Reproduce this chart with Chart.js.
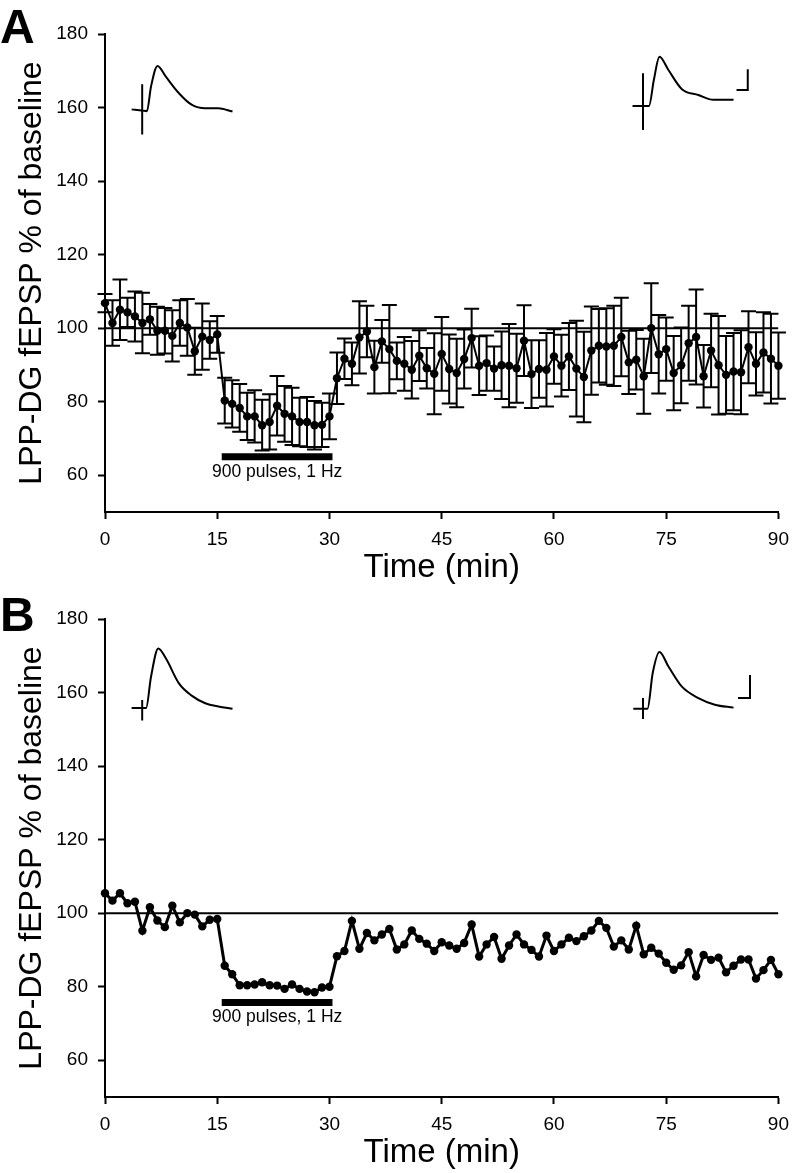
<!DOCTYPE html>
<html>
<head>
<meta charset="utf-8">
<script src="https://cdn.jsdelivr.net/npm/chart.js@4.4.1/dist/chart.umd.min.js"></script>
<style>
  html, body { margin: 0; padding: 0; background: #fff; }
  body { width: 798px; height: 1173px; position: relative; overflow: hidden; font-family: "Liberation Sans", Arial, sans-serif; }
  .panel { position: absolute; left: 0; width: 798px; height: 585px; }
  .letter { position: absolute; left: 0; font-weight: bold; font-size: 48px; line-height: 48px; color: #000; }
</style>
</head>
<body>
<div class="panel" style="top:0"><canvas id="chartA" width="798" height="585"></canvas></div>
<div class="panel" style="top:585px"><canvas id="chartB" width="798" height="585"></canvas></div>
<div class="letter" style="top:3px">A</div>
<div class="letter" style="top:591px">B</div>
<script>
// time of each sample (min)
const minutes = [0, 1, 2, 3, 4, 5, 6, 7, 8, 9, 10, 11, 12, 13, 14, 15, 16, 17, 18, 19,
  20, 21, 22, 23, 24, 25, 26, 27, 28, 29, 30, 31, 32, 33, 34, 35, 36, 37, 38, 39,
  40, 41, 42, 43, 44, 45, 46, 47, 48, 49, 50, 51, 52, 53, 54, 55, 56, 57, 58, 59,
  60, 61, 62, 63, 64, 65, 66, 67, 68, 69, 70, 71, 72, 73, 74, 75, 76, 77, 78, 79,
  80, 81, 82, 83, 84, 85, 86, 87, 88, 89, 90];

// panel A: mean fEPSP (% of baseline) and SEM
const meanA = [106.8, 101.4, 105.0, 104.3, 103.2, 101.4, 102.4, 99.3, 99.3, 97.9, 101.4, 100.2, 93.7, 97.7, 96.8, 98.3,
  80.3, 79.4, 78.3, 76.0, 76.0, 73.6, 74.5, 78.9, 76.7, 76.0, 74.5, 74.5, 73.6, 73.7, 76.0,
  86.4, 91.7, 90.3, 97.5, 99.1, 89.4, 96.4, 94.3, 91.1, 90.3, 88.7, 92.5, 89.1, 87.6, 93.0, 88.9,
  87.8, 91.6, 97.3, 89.8, 90.5, 89.0, 89.9, 89.8, 89.1, 96.6, 87.5, 88.9, 88.7, 92.3, 89.8, 92.3,
  89.0, 86.7, 93.9, 95.2, 95.0, 95.2, 97.6, 90.7, 91.4, 86.9, 100.0, 92.9, 94.3, 87.8,
  89.9, 95.9, 97.6, 86.9, 93.9, 89.9, 87.3, 88.2, 88.0, 94.8, 90.3, 93.4, 91.7, 89.8];
const semA = [2.5, 6.2, 8.2, 4.0, 6.8, 8.2, 4.2, 6.5, 6.2, 7.0, 6.2, 7.7, 6.4, 9.0, 5.1, 5.0,
  6.2, 6.4, 6.5, 6.4, 7.1, 6.9, 7.5, 8.1, 7.6, 7.8, 6.6, 6.8, 6.6, 6.0, 6.2,
  7.0, 5.5, 5.8, 9.8, 7.0, 7.2, 5.8, 12.0, 5.0, 7.3, 7.8, 6.9, 5.5, 11.0, 10.0, 9.4,
  9.3, 8.0, 8.0, 8.0, 7.5, 6.0, 9.2, 11.3, 9.4, 9.6, 9.2, 7.8, 10.0, 7.4, 8.4, 9.1,
  13.0, 12.3, 12.0, 10.0, 10.4, 10.9, 10.7, 8.6, 8.1, 10.2, 12.2, 10.7, 8.6, 10.1,
  10.3, 10.2, 12.9, 8.5, 10.0, 13.4, 10.6, 10.5, 11.4, 9.8, 8.6, 10.9, 12.2, 9.0];

// panel B: single experiment
const valuesB = [105.4, 103.4, 105.4, 102.7, 103.1, 95.2, 101.6, 98.0, 96.2, 102.0, 97.5, 100.0, 99.6, 96.4, 98.2, 98.4,
  85.7, 83.4, 80.4, 80.4, 80.6, 81.2, 80.4, 80.3, 79.4, 80.6, 79.4, 78.7, 78.5, 79.8, 80.0,
  88.3, 89.7, 97.9, 90.3, 94.6, 92.6, 94.2, 95.7, 90.1, 91.5, 95.3, 93.0, 91.7, 89.7, 92.1, 91.2,
  90.3, 91.9, 96.9, 88.2, 91.5, 93.5, 87.6, 91.2, 94.2, 91.5, 90.0, 88.2, 93.9, 89.7, 91.5, 93.3,
  92.4, 93.7, 95.3, 97.9, 96.0, 90.9, 92.6, 90.1, 96.6, 88.8, 90.6, 89.0, 86.5, 84.6,
  85.8, 89.4, 82.8, 88.6, 87.3, 87.9, 83.9, 85.7, 87.4, 87.4, 82.2, 84.5, 87.3, 83.4];

const xTicks = [0, 15, 30, 45, 60, 75, 90];
const yTicks = [60, 80, 100, 120, 140, 160, 180];
const baseline = 100;
const stimTimes = [15.6, 30.4];
const stimLevelA = 65;
const stimLevelB = 75.7;
const stimLabel = '900 pulses, 1 Hz';

// example fEPSP traces (inset) as [time, value] samples
const traceA1 = [[3.56, 159.5], [4.97, 159.2], [5.6, 159.0], [6.15, 165.7], [7.02, 171.3], [8.13, 168.4],
  [9.88, 163.9], [11.63, 160.7], [13.4, 159.8], [15.15, 159.8], [17.04, 158.9]];
const artifactA1 = [[4.97, 166.3], [4.97, 152.7]];
const traceA2 = [[70.5, 160.4], [71.9, 160.4], [72.7, 160.4], [73.35, 167.5], [74.1, 173.8], [75.3, 170.2],
  [77.1, 165.0], [79.3, 163.4], [81.3, 162.1], [84.0, 162.1]];
const artifactA2 = [[71.9, 169.3], [71.9, 153.9]];
const scaleBarA = [[84.4, 164.8], [85.9, 164.8], [85.9, 170.4]];

const traceB1 = [[3.56, 155.8], [4.97, 155.8], [5.49, 155.8], [6.15, 164.3], [7.12, 172.0], [8.13, 169.3],
  [9.88, 162.5], [11.63, 159.1], [13.4, 157.1], [15.15, 156.2], [17.04, 155.6]];
const artifactB1 = [[4.97, 158.0], [4.97, 152.4]];
const traceB2 = [[70.6, 155.6], [71.9, 155.6], [72.5, 155.6], [73.2, 165.3], [74.1, 171.0], [75.3, 167.1],
  [77.1, 161.6], [79.3, 158.5], [81.5, 156.7], [84.0, 155.9]];
const artifactB2 = [[71.9, 158.5], [71.9, 152.8]];
const scaleBarB = [[84.6, 158.5], [86.2, 158.5], [86.2, 164.8]];

Chart.defaults.font.family = "'Liberation Sans', Arial, sans-serif";
Chart.defaults.color = '#000';

function pts(pairs) {
  return pairs.map(p => ({ x: p[0], y: p[1] }));
}

function plainLine(data, width, smooth) {
  return {
    data: pts(data),
    borderColor: '#000',
    borderWidth: width,
    pointRadius: 0,
    tension: 0,
    cubicInterpolationMode: smooth ? 'monotone' : 'default',
    borderCapStyle: 'butt'
  };
}

function errorBars(values, sem) {
  return {
    id: 'errorBars',
    beforeDatasetsDraw(chart) {
      const { ctx, scales: { x, y } } = chart;
      const cap = 7.5;
      ctx.save();
      ctx.strokeStyle = '#000';
      ctx.lineWidth = 2;
      ctx.beginPath();
      sem.forEach((e, i) => {
        const px = x.getPixelForValue(minutes[i]);
        const hi = y.getPixelForValue(values[i] + e);
        const lo = y.getPixelForValue(values[i] - e);
        ctx.moveTo(px, hi); ctx.lineTo(px, lo);
        ctx.moveTo(px - cap, hi); ctx.lineTo(px + cap, hi);
        ctx.moveTo(px - cap, lo); ctx.lineTo(px + cap, lo);
      });
      ctx.stroke();
      ctx.restore();
    }
  };
}

function stimText(level) {
  return {
    id: 'stimText',
    afterDatasetsDraw(chart) {
      const { ctx, scales: { x, y } } = chart;
      ctx.save();
      ctx.fillStyle = '#000';
      ctx.font = "17.5px 'Liberation Sans', Arial, sans-serif";
      ctx.textAlign = 'center';
      ctx.textBaseline = 'middle';
      ctx.fillText(stimLabel, x.getPixelForValue((stimTimes[0] + stimTimes[1]) / 2), y.getPixelForValue(level) + 15);
      ctx.restore();
    }
  };
}

function makePanel(id, values, sem, stimLevel, insets, dataWidth, pointR) {
  const datasets = [
    plainLine([[0, baseline], [90, baseline]], 2, false),
    plainLine([[stimTimes[0], stimLevel], [stimTimes[1], stimLevel]], 7, false),
    ...insets.map(s => plainLine(s.data, 2, s.smooth)),
    {
      data: minutes.map((t, i) => ({ x: t, y: values[i] })),
      borderColor: '#000',
      backgroundColor: '#000',
      borderWidth: dataWidth,
      pointRadius: pointR,
      pointBorderWidth: 0,
      pointBackgroundColor: '#000',
      tension: 0,
      clip: false
    }
  ];
  const plugins = [stimText(stimLevel)];
  if (sem) plugins.unshift(errorBars(values, sem));

  new Chart(document.getElementById(id), {
    type: 'line',
    data: { datasets },
    plugins,
    options: {
      responsive: false,
      animation: false,
      events: [],
      layout: { padding: { top: 34, right: 10, left: 0, bottom: 0 } },
      plugins: { legend: { display: false }, tooltip: { enabled: false } },
      scales: {
        x: {
          type: 'linear',
          min: 0,
          max: 90,
          afterBuildTicks: s => { s.ticks = xTicks.map(v => ({ value: v })); },
          afterFit: s => { s.height = 73; },
          ticks: { font: { size: 19 }, padding: 9, maxRotation: 0 },
          grid: { drawOnChartArea: false, tickLength: 7, tickWidth: 2, tickColor: '#000' },
          border: { color: '#000', width: 2 },
          title: { display: true, text: 'Time (min)', font: { size: 33 }, padding: { top: 0, bottom: -3 } }
        },
        y: {
          min: 50,
          max: 180,
          afterBuildTicks: s => { s.ticks = yTicks.map(v => ({ value: v })); },
          afterFit: s => { s.width = 105; },
          ticks: { font: { size: 19 }, padding: 10 },
          grid: { drawOnChartArea: false, tickLength: 7, tickWidth: 2, tickColor: '#000' },
          border: { color: '#000', width: 2 },
          title: { display: true, text: 'LPP-DG fEPSP % of baseline', font: { size: 32 }, padding: { top: 13, bottom: 0 } }
        }
      }
    }
  });
}

makePanel('chartA', meanA, semA, stimLevelA, [
  { data: traceA1, smooth: true }, { data: artifactA1 },
  { data: traceA2, smooth: true }, { data: artifactA2 }, { data: scaleBarA }
], 2, 4.2);

makePanel('chartB', valuesB, null, stimLevelB, [
  { data: traceB1, smooth: true }, { data: artifactB1 },
  { data: traceB2, smooth: true }, { data: artifactB2 }, { data: scaleBarB }
], 3, 4.2);
</script>
</body>
</html>
